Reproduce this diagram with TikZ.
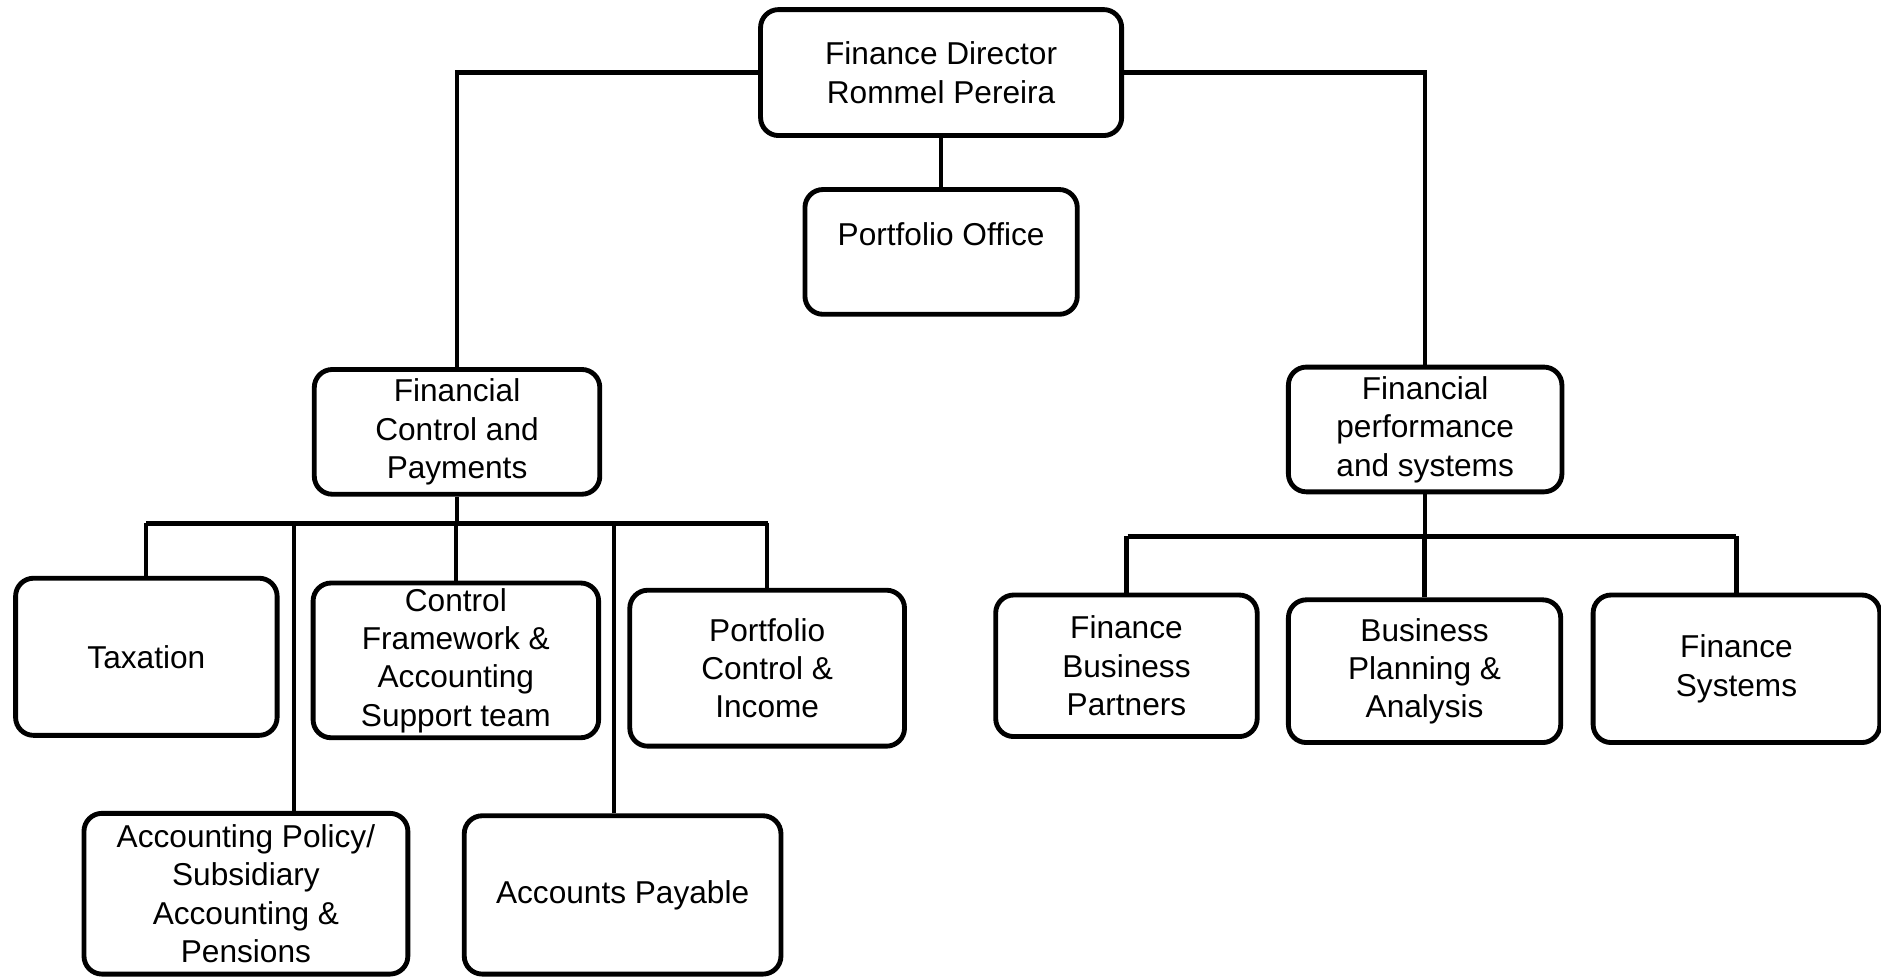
\documentclass[tikz,border=0pt]{standalone}
\usepackage{fontspec}
\setmainfont{Liberation Sans}
\usepackage{tikz}
\usetikzlibrary{positioning}

\tikzset{box/.style={draw,rounded corners=0.3cm,line width=2.3pt,align=center,inner sep=0pt},
         link/.style={line width=2pt},
         bus/.style={line width=2.4pt}}

\begin{document}
\begin{tikzpicture}[font=\fontsize{15}{18.2}\selectfont]
     \useasboundingbox (0,0) rectangle (31.36,16.3);
     \node[box,minimum width=6.02cm,minimum height=2.1cm] at (15.69,15.09) (fd) {Finance Director\\Rommel Pereira};
     \node[box,minimum width=4.54cm,minimum height=2.08cm,text depth=0.6cm] at (15.69,12.1) (po) {Portfolio Office};
     \node[box,minimum width=4.76cm,minimum height=2.08cm] at (7.62,9.1) (fcp) {Financial\\Control and\\Payments};
     \node[box,minimum width=4.56cm,minimum height=2.08cm] at (23.76,9.14) (fps) {Financial\\performance\\and systems};
     \node[box,minimum width=4.36cm,minimum height=2.62cm] at (2.44,5.35) (tax) {Taxation};
     \node[box,minimum width=4.76cm,minimum height=2.58cm] at (7.6,5.29) (cfa) {Control\\Framework \&\\Accounting\\Support team};
     \node[box,minimum width=4.58cm,minimum height=2.6cm] at (12.79,5.16) (pci) {Portfolio\\Control \&\\Income};
     \node[box,minimum width=5.4cm,minimum height=2.68cm] at (4.1,1.4) (apol) {Accounting Policy/\\Subsidiary\\Accounting \&\\Pensions};
     \node[box,minimum width=5.28cm,minimum height=2.64cm] at (10.38,1.38) (ap) {Accounts Payable};
     \node[box,minimum width=4.36cm,minimum height=2.36cm] at (18.78,5.2) (fbp) {Finance\\Business\\Partners};
     \node[box,minimum width=4.54cm,minimum height=2.38cm] at (23.75,5.11) (bpa) {Business\\Planning \&\\Analysis};
     \node[box,minimum width=4.78cm,minimum height=2.46cm] at (28.95,5.15) (fs) {Finance\\Systems};
     \coordinate (bl) at (2.44,7.58);
     \coordinate (br) at (12.8,7.58);
     \coordinate (pl) at (18.8,7.36);
     \coordinate (pr) at (28.94,7.36);
     % top level
     \draw[link] (fd.west) -| (fcp.north);
     \draw[link] (fd.east) -| (fps.north);
     \draw[link] (fd.south) -- (po.north);
     % control and payments
     \draw[bus] (bl) -- (br);
     \draw[link] (fcp.south) -- (fcp.south |- bl);
     \path[link] (tax.north) edge (tax.north |- bl)
              (cfa.north) edge (cfa.north |- bl)
              (pci.north) edge (pci.north |- br)
              ([xshift=8mm]apol.north) edge ([xshift=8mm]apol.north |- bl)
              ([xshift=-1.4mm]ap.north) edge ([xshift=-1.4mm]ap.north |- bl);
     % performance and systems
     \draw[bus] (pl) -- (pr);
     \path[link] (fps.south) edge (fps.south |- pl)
              (fbp.north) edge (fbp.north |- pl)
              (bpa.north) edge (bpa.north |- pl)
              (fs.north) edge (fs.north |- pr);
\end{tikzpicture}
\end{document}
